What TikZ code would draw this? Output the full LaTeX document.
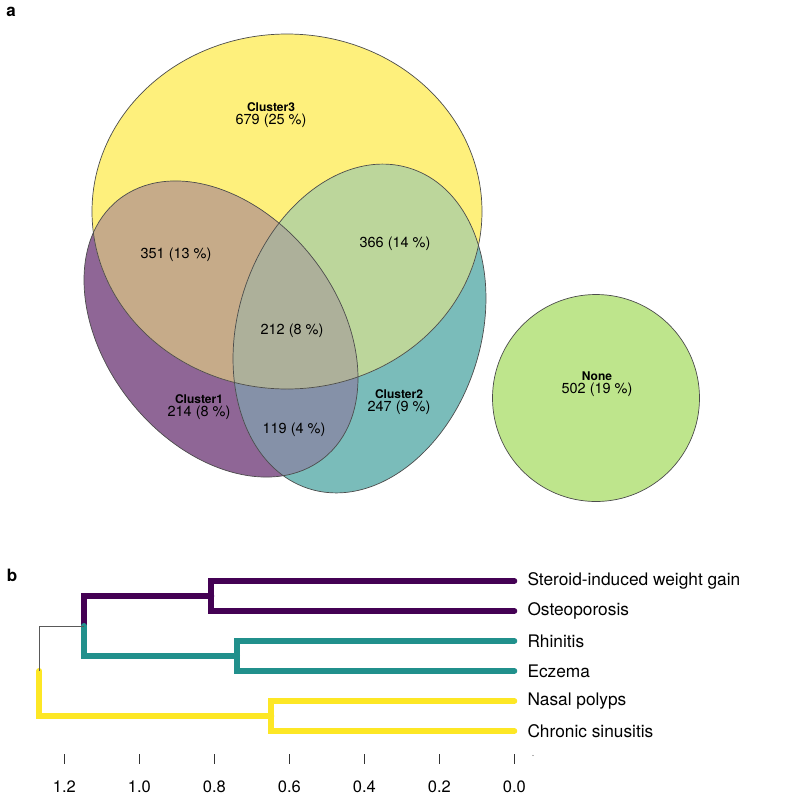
\documentclass[tikz,border=0pt]{standalone}
\usepackage{fontspec}
\setmainfont{TeX Gyre Heros}
\usetikzlibrary{positioning}

% Venn colours (set colour at 60% over white) and their mixes
\definecolor{cluA}{RGB}{143,102,150}
\definecolor{cluB}{RGB}{122,188,186}
\definecolor{cluC}{RGB}{254,240,124}
\definecolor{cluN}{RGB}{190,229,140}
\colorlet{cluAB}{cluA!50!cluB}
\colorlet{cluAC}{cluA!50!cluC}
\colorlet{cluBC}{cluB!50!cluC}
\colorlet{cluABC}{cluAB!67!cluC}
% dendrogram colours
\definecolor{dpurple}{HTML}{440154}
\definecolor{dteal}{HTML}{21908C}
\definecolor{dyellow}{HTML}{FDE725}

\def\ellA{(221,329) ellipse [x radius=165pt, y radius=116pt, rotate=-51.6]}
\def\ellB{(359.5,328.5) ellipse [x radius=168pt, y radius=121.6pt, rotate=72.6]}
\def\ellC{(287,211.5) ellipse [x radius=195pt, y radius=177.5pt]}

\tikzset{
	venn line/.style={draw=black!70, line width=0.7pt},
	set title/.style={font=\fontsize{12}{14}\selectfont\bfseries, inner sep=0pt},
	set count/.style={font=\fontsize{14.5}{17}\selectfont, inner sep=0pt},
	branch/.style={line width=6pt, line cap=round, line join=miter},
	leaf label/.style={font=\fontsize{17.3}{20}\selectfont, anchor=west, inner sep=0pt, node distance=13pt},
	panel/.style={font=\fontsize{17}{20}\selectfont\bfseries, inner sep=0pt}
}

\begin{document}
\begin{tikzpicture}[x=1pt, y={(0pt,-1pt)}]
	\useasboundingbox (0,0) rectangle (785,796);
	
	% ---------- a: Venn diagram ----------
	\node[panel] (pa) at (11,12) {a};
	
	% single sets
	\fill[cluA] \ellA;
	\fill[cluB] \ellB;
	\fill[cluC] \ellC;
	% overlaps
	\begin{scope}
		\clip \ellA; \fill[cluAB] \ellB;
	\end{scope}
	\begin{scope}
		\clip \ellA; \fill[cluAC] \ellC;
	\end{scope}
	\begin{scope}
		\clip \ellB; \fill[cluBC] \ellC;
	\end{scope}
	\begin{scope}
		\clip \ellA; \clip \ellB; \fill[cluABC] \ellC;
	\end{scope}
	% outlines
	\draw[venn line] \ellA;
	\draw[venn line] \ellB;
	\draw[venn line] \ellC;
	
	% set with no cluster
	\draw[venn line, fill=cluN] (596,398) circle [radius=103.5pt];
	
	% region counts
	\node[set title] (t3) at (271,107) {Cluster3};
	\node[set count] (n3) at (271,121) {679 (25 \%)};
	\node[set count] (n13) at (176,255) {351 (13 \%)};
	\node[set count] (n23) at (395,244) {366 (14 \%)};
	\node[set count] (n123) at (292,331) {212 (8 \%)};
	\node[set title] (t1) at (199,399) {Cluster1};
	\node[set count] (n1) at (199,413) {214 (8 \%)};
	\node[set title] (t2) at (399,394) {Cluster2};
	\node[set count] (n2) at (399,408) {247 (9 \%)};
	\node[set count] (n12) at (294,430) {119 (4 \%)};
	\node[set title] (tn) at (597,376) {None};
	\node[set count] (nn) at (597,390) {502 (19 \%)};
	
	% ---------- b: dendrogram ----------
	\node[panel] (pb) at (12,575) {b};
	
	% leaves (height 0)
	\coordinate (l1) at (514.3,581);
	\coordinate (l2) at (514.3,611);
	\coordinate (l3) at (514.3,641);
	\coordinate (l4) at (514.3,671);
	\coordinate (l5) at (514.3,701);
	\coordinate (l6) at (514.3,731);
	% merge points
	\coordinate (mA) at (211.3,596);
	\coordinate (mB) at (237,656);
	\coordinate (mC) at (271.3,716);
	\coordinate (mAB) at (84,626);
	\coordinate (root) at (39.3,671);
	
	% purple cluster
	\draw[branch, dpurple] (l1) -- (l1 -| mA) -- (l2 -| mA) -- (l2);
	\draw[branch, dpurple] (mA) -- (mA -| mAB) -- (mAB);
	% teal cluster
	\draw[branch, dteal] (l3) -- (l3 -| mB) -- (l4 -| mB) -- (l4);
	\draw[branch, dteal] (mB) -- (mB -| mAB) -- (mAB);
	% yellow cluster
	\draw[branch, dyellow] (l5) -- (l5 -| mC) -- (l6 -| mC) -- (l6);
	\draw[branch, dyellow] (root) -- (root |- mC) -- (mC);
	% root
	\draw[black!65, line width=1pt] (mAB) -- (mAB -| root) -- (root);
	
	% leaf labels
	\node[leaf label, right=of l1] (s1) {Steroid-induced weight gain};
	\node[leaf label, right=of l2] (s2) {Osteoporosis};
	\node[leaf label, right=of l3] (s3) {Rhinitis};
	\node[leaf label, right=of l4] (s4) {Eczema};
	\node[leaf label, right=of l5] (s5) {Nasal polyps};
	\node[leaf label, right=of l6] (s6) {Chronic sinusitis};
	
	% height axis
	\foreach \h/\lab in {0/0.0, 1/0.2, 2/0.4, 3/0.6, 4/0.8, 5/1.0, 6/1.2} {
		\draw[black!80, line width=0.6pt] (514.3-75*\h,754) -- (514.3-75*\h,764);
		\node[font=\fontsize{16.5}{19}\selectfont, inner sep=0pt] (ax\h) at (514.3-75*\h,787) {\lab};
	}
	\fill[black!60] (533,755.5) circle [radius=0.6pt];
\end{tikzpicture}
\end{document}
